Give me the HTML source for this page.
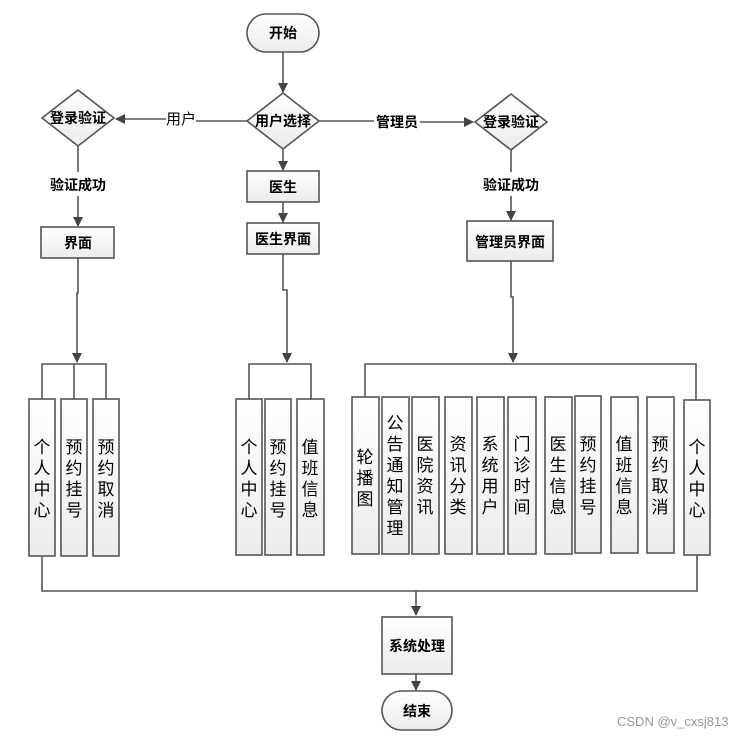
<!DOCTYPE html>
<html><head><meta charset="utf-8"><style>
html,body{margin:0;padding:0;background:#fff;}
svg{display:block;}
text{font-family:"Liberation Sans","Noto Sans CJK SC",sans-serif;fill:#000;}
.b{font-weight:bold;font-size:14px;}
.v{font-size:17px;}
</style></head><body>
<svg width="754" height="738" viewBox="0 0 754 738" xmlns="http://www.w3.org/2000/svg">
<defs>
<linearGradient id="g" x1="0" y1="0" x2="0" y2="1"><stop offset="0" stop-color="#ffffff"/><stop offset="1" stop-color="#ececec"/></linearGradient>
<linearGradient id="gh" x1="0" y1="0" x2="1" y2="0"><stop offset="0" stop-color="#ffffff"/><stop offset="1" stop-color="#ececec"/></linearGradient>
<marker id="a" markerWidth="10" markerHeight="10" refX="9" refY="5" orient="auto" markerUnits="userSpaceOnUse"><path d="M0,0 L10,5 L0,10 Z" fill="#444"/></marker>
</defs>
<g stroke="#555" stroke-width="1.6" fill="none">
<!-- connectors -->
<line x1="283" y1="52" x2="283" y2="92" marker-end="url(#a)"/>
<line x1="247" y1="121" x2="196" y2="121"/>
<line x1="166" y1="119" x2="116" y2="119" marker-end="url(#a)"/>
<line x1="319" y1="121" x2="374" y2="121"/>
<line x1="420" y1="122" x2="473" y2="122" marker-end="url(#a)"/>
<line x1="283" y1="149" x2="283" y2="170" marker-end="url(#a)"/>
<line x1="283" y1="202" x2="283" y2="222" marker-end="url(#a)"/>
<line x1="78" y1="146" x2="78" y2="172"/>
<line x1="78" y1="196" x2="78" y2="226" marker-end="url(#a)"/>
<line x1="511" y1="150" x2="511" y2="172"/>
<line x1="511" y1="196" x2="511" y2="220" marker-end="url(#a)"/>
<polyline points="78,258 78,293 77,293 77,362" marker-end="url(#a)"/>
<polyline points="283,254 283,290 287,290 287,362" marker-end="url(#a)"/>
<polyline points="511,261 511,297 513,297 513,362" marker-end="url(#a)"/>
<polyline points="42,399 42,364 106,364 106,399"/>
<line x1="74" y1="364" x2="74" y2="399"/>
<polyline points="249,399 249,364 311,364 311,399"/>
<polyline points="365,397 365,364 696,364 696,400"/>
<polyline points="42,556 42,591 697,591 697,555"/>
<line x1="416" y1="591" x2="416" y2="615" marker-end="url(#a)"/>
<line x1="416" y1="674" x2="416" y2="690" marker-end="url(#a)"/>
</g>
<g stroke="#555" stroke-width="1.6" fill="url(#g)">
<rect x="247" y="14" width="72" height="38" rx="19"/>
<polygon points="283,93 319,121 283,149 247,121"/>
<polygon points="78,90 114,118 78,146 42,118"/>
<polygon points="511,94 547,122 511,150 475,122"/>
<rect x="247" y="171" width="72" height="31"/>
<rect x="247" y="223" width="72" height="31"/>
<rect x="41" y="227" width="73" height="31"/>
<rect x="467" y="221" width="86" height="40"/>
<rect x="382" y="617" width="70" height="57"/>
<rect x="382" y="691" width="70" height="39" rx="19.5"/>
<rect x="29" y="399" width="26" height="157"/>
<rect x="61" y="399" width="26" height="157"/>
<rect x="93" y="399" width="26" height="157"/>
<rect x="236" y="399" width="26" height="156"/>
<rect x="265" y="399" width="26" height="156"/>
<rect x="297" y="399" width="27" height="156"/>
<rect x="352" y="397" width="27" height="157"/>
<rect x="382" y="397" width="27" height="157"/>
<rect x="412" y="397" width="27" height="157"/>
<rect x="445" y="397" width="27" height="157"/>
<rect x="477" y="397" width="27" height="157"/>
<rect x="508" y="397" width="28" height="157"/>
<rect x="545" y="397" width="27" height="157"/>
<rect x="575" y="396" width="26" height="157"/>
<rect x="611" y="397" width="27" height="156"/>
<rect x="647" y="397" width="27" height="156"/>
<rect x="684" y="400" width="26" height="155"/>
</g>
<g class="b" text-anchor="middle">
<text x="283" y="38">开始</text>
<text x="283" y="126">用户选择</text>
<text x="78" y="123">登录验证</text>
<text x="511" y="127">登录验证</text>
<text x="181" y="124" style="font-weight:normal;font-size:15px">用户</text>
<text x="397" y="127">管理员</text>
<text x="78" y="190">验证成功</text>
<text x="511" y="190">验证成功</text>
<text x="283" y="192">医生</text>
<text x="283" y="244">医生界面</text>
<text x="78" y="248">界面</text>
<text x="510" y="247">管理员界面</text>
<text x="417" y="651">系统处理</text>
<text x="417" y="716">结束</text>
</g>
<g class="v" text-anchor="middle">
<text x="42" y="453"><tspan x="42">个</tspan><tspan x="42" dy="21">人</tspan><tspan x="42" dy="21">中</tspan><tspan x="42" dy="21">心</tspan></text>
<text x="74" y="453"><tspan x="74">预</tspan><tspan x="74" dy="21">约</tspan><tspan x="74" dy="21">挂</tspan><tspan x="74" dy="21">号</tspan></text>
<text x="106" y="453"><tspan x="106">预</tspan><tspan x="106" dy="21">约</tspan><tspan x="106" dy="21">取</tspan><tspan x="106" dy="21">消</tspan></text>
<text x="249" y="453"><tspan x="249">个</tspan><tspan x="249" dy="21">人</tspan><tspan x="249" dy="21">中</tspan><tspan x="249" dy="21">心</tspan></text>
<text x="278" y="453"><tspan x="278">预</tspan><tspan x="278" dy="21">约</tspan><tspan x="278" dy="21">挂</tspan><tspan x="278" dy="21">号</tspan></text>
<text x="310" y="453"><tspan x="310">值</tspan><tspan x="310" dy="21">班</tspan><tspan x="310" dy="21">信</tspan><tspan x="310" dy="21">息</tspan></text>
<text x="365" y="463"><tspan x="365">轮</tspan><tspan x="365" dy="21">播</tspan><tspan x="365" dy="21">图</tspan></text>
<text x="395" y="429"><tspan x="395">公</tspan><tspan x="395" dy="21">告</tspan><tspan x="395" dy="21">通</tspan><tspan x="395" dy="21">知</tspan><tspan x="395" dy="21">管</tspan><tspan x="395" dy="21">理</tspan></text>
<text x="425" y="450"><tspan x="425">医</tspan><tspan x="425" dy="21">院</tspan><tspan x="425" dy="21">资</tspan><tspan x="425" dy="21">讯</tspan></text>
<text x="458" y="450"><tspan x="458">资</tspan><tspan x="458" dy="21">讯</tspan><tspan x="458" dy="21">分</tspan><tspan x="458" dy="21">类</tspan></text>
<text x="490" y="450"><tspan x="490">系</tspan><tspan x="490" dy="21">统</tspan><tspan x="490" dy="21">用</tspan><tspan x="490" dy="21">户</tspan></text>
<text x="522" y="450"><tspan x="522">门</tspan><tspan x="522" dy="21">诊</tspan><tspan x="522" dy="21">时</tspan><tspan x="522" dy="21">间</tspan></text>
<text x="558" y="450"><tspan x="558">医</tspan><tspan x="558" dy="21">生</tspan><tspan x="558" dy="21">信</tspan><tspan x="558" dy="21">息</tspan></text>
<text x="588" y="450"><tspan x="588">预</tspan><tspan x="588" dy="21">约</tspan><tspan x="588" dy="21">挂</tspan><tspan x="588" dy="21">号</tspan></text>
<text x="624" y="450"><tspan x="624">值</tspan><tspan x="624" dy="21">班</tspan><tspan x="624" dy="21">信</tspan><tspan x="624" dy="21">息</tspan></text>
<text x="660" y="450"><tspan x="660">预</tspan><tspan x="660" dy="21">约</tspan><tspan x="660" dy="21">取</tspan><tspan x="660" dy="21">消</tspan></text>
<text x="697" y="453"><tspan x="697">个</tspan><tspan x="697" dy="21">人</tspan><tspan x="697" dy="21">中</tspan><tspan x="697" dy="21">心</tspan></text>
</g>
<text x="617" y="726" style="font-size:13px;fill:#999">CSDN @v_cxsj813</text>
</svg>
</body></html>
